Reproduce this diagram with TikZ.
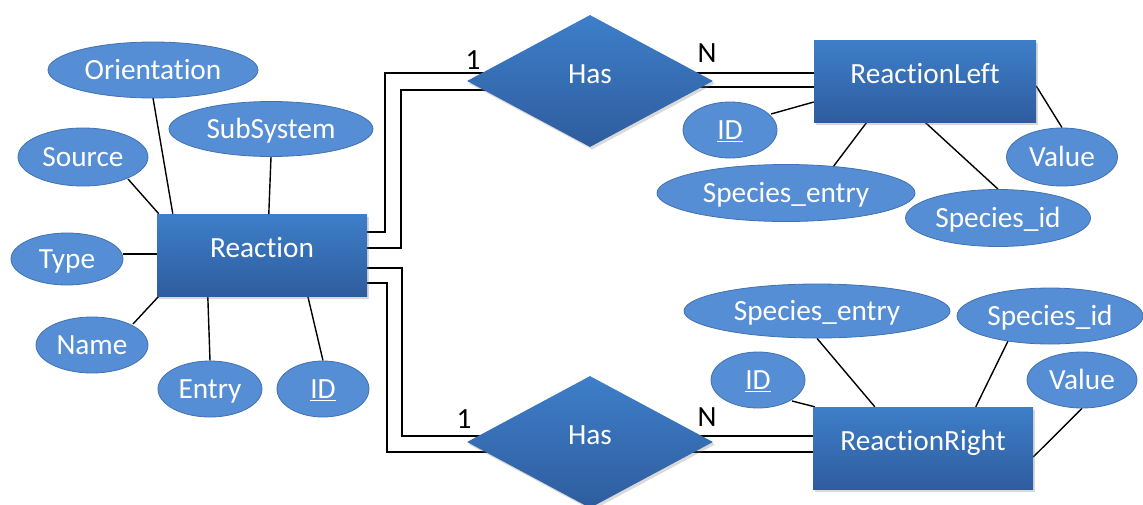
\documentclass[tikz,border=0pt]{standalone}
\usepackage{fontspec}
\setmainfont{Carlito}[Ligatures=NoCommon]
\usetikzlibrary{shapes.geometric,shadows,backgrounds,calc}
\definecolor{enttop}{RGB}{62,126,201}
\definecolor{entbot}{RGB}{46,93,158}
\definecolor{attfill}{RGB}{85,142,213}
\definecolor{attline}{RGB}{65,113,176}
\tikzset{
  txt/.style={font=\fontsize{29.3pt}{33pt}\selectfont},
  entity/.style={txt, rectangle, inner sep=0pt, text=white,
    top color=enttop, bottom color=entbot, draw=none,
    text height=18.8pt, text depth=14.8pt,
    drop shadow={shadow xshift=2pt, shadow yshift=-2.5pt, opacity=0.3}},
  rel/.style={entity, diamond, minimum width=246pt, minimum height=132pt},
  attr/.style={txt, ellipse, inner sep=0pt, text=white, fill=attfill,
    draw=attline, line width=0.8pt, text height=18.8pt, text depth=0pt},
  card/.style={txt, inner sep=0pt, text=black, text height=18.8pt, text depth=0pt},
  conn/.style={draw=black, line width=1.4pt},
}
\begin{document}
\begin{tikzpicture}[x=1pt,y=-1pt]
\useasboundingbox (0,0) rectangle (1143,504);
% entities
\node[entity, minimum width=210pt, minimum height=82pt] (reaction) at (262,255) {Reaction};
\node[entity, minimum width=222pt, minimum height=82pt] (rleft) at (925,81) {ReactionLeft};
\node[entity, minimum width=220pt, minimum height=82pt] (rright) at (923,448) {ReactionRight};
% relationships
\node[rel] (has1) at (590,81) {Has};
\node[rel] (has2) at (590,442) {Has};
% Reaction attributes
\node[attr, minimum width=210pt, minimum height=56pt] (orient) at (153,70) {Orientation};
\node[attr, minimum width=204pt, minimum height=55pt] (sub) at (271,129) {SubSystem};
\node[attr, minimum width=130pt, minimum height=58pt] (source) at (83,157) {Source};
\node[attr, minimum width=112pt, minimum height=52pt] (type) at (67,259) {Type};
\node[attr, minimum width=112pt, minimum height=56pt] (name) at (92,345) {Name};
\node[attr, minimum width=104pt, minimum height=56pt] (entry) at (210,389) {Entry};
\node[attr, minimum width=92pt, minimum height=56pt] (rid) at (323,389) {\underline{ID}};
% ReactionLeft attributes
\node[attr, minimum width=94pt, minimum height=56pt] (lid) at (730,130) {\underline{ID}};
\node[attr, minimum width=258pt, minimum height=57pt] (lse) at (786,193) {Species\_entry};
\node[attr, minimum width=185pt, minimum height=57pt] (lsi) at (998,218) {Species\_id};
\node[attr, minimum width=111pt, minimum height=58pt] (lv) at (1062,157) {Value};
% ReactionRight attributes
\node[attr, minimum width=266pt, minimum height=54pt] (rse) at (817,311) {Species\_entry};
\node[attr, minimum width=186pt, minimum height=56pt] (rsi) at (1050,316) {Species\_id};
\node[attr, minimum width=94pt, minimum height=56pt] (rrid) at (758,380) {\underline{ID}};
\node[attr, minimum width=110pt, minimum height=56pt] (rv) at (1082,380) {Value};
% cardinalities
\node[card] (c1a) at (473,60) {1};
\node[card] (cna) at (707,53) {N};
\node[card] (c1b) at (464,419) {1};
\node[card] (cnb) at (707,417) {N};
\begin{pgfonlayer}{background}
% double connectors, top
\draw[conn] ($(reaction.east)+(0,-23)$) -| ($(has1.center)+(-205,-8)$) -- ($(has1.center)+(0,-8)$);
\draw[conn] ($(reaction.east)+(0,-7)$) -| ($(has1.center)+(-189,9)$) -- ($(has1.center)+(0,9)$);
\draw[conn] ($(has1.center)+(0,-8)$) -- ($(rleft.west)+(0,-8)$);
\draw[conn] ($(has1.center)+(0,6)$) -- ($(rleft.west)+(0,6)$);
% double connectors, bottom
\draw[conn] ($(reaction.east)+(0,13)$) -| ($(has2.center)+(-188,-6)$) -- ($(has2.center)+(0,-6)$);
\draw[conn] ($(reaction.east)+(0,28)$) -| ($(has2.center)+(-203,10)$) -- ($(has2.center)+(0,10)$);
\draw[conn] ($(has2.center)+(0,-6)$) -- ($(rright.west)+(0,-12)$);
\draw[conn] ($(has2.center)+(0,10)$) -- ($(rright.west)+(0,4)$);
% Reaction attributes
\draw[conn] ($(orient.center)+(0,28)$) -- ($(reaction.north west)+(16,0)$);
\draw[conn] (sub.south) -- ($(reaction.north west)+(112,0)$);
\draw[conn] ($(source.center)+(45,22)$) -- ($(reaction.north west)+(2,0)$);
\draw[conn] ($(type.center)+(56,-5)$) -- ($(reaction.west)+(0,-1)$);
\draw[conn] ($(name.center)+(41,-21)$) -- ($(reaction.south west)+(2,0)$);
\draw[conn] (entry.north) -- ($(reaction.south west)+(51,0)$);
\draw[conn] (rid.north) -- ($(reaction.south west)+(151,0)$);
% ReactionLeft attributes
\draw[conn] ($(lid.center)+(41,-16)$) -- ($(rleft.west)+(0,21)$);
\draw[conn] ($(lse.center)+(47,-26)$) -- ($(rleft.south west)+(53,0)$);
\draw[conn] (lsi.north) -- (rleft.south);
\draw[conn] (lv.north) -- ($(rleft.east)+(0,5)$);
% ReactionRight attributes
\draw[conn] (rse.south) -- ($(rright.north west)+(62,0)$);
\draw[conn] ($(rsi.center)+(-42,25)$) -- ($(rright.north west)+(163,0)$);
\draw[conn] ($(rrid.center)+(34,21)$) -- ($(rright.north west)+(2,0)$);
\draw[conn] (rv.south) -- ($(rright.east)+(0,9)$);
\end{pgfonlayer}
\end{tikzpicture}
\end{document}
